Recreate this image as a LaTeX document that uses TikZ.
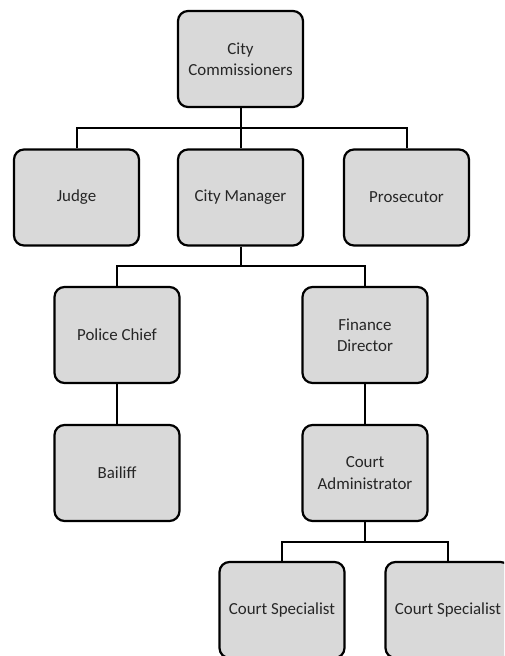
\documentclass[tikz,border=0pt]{standalone}
\usepackage{fontspec}
\setmainfont{Carlito}
\definecolor{boxfill}{HTML}{D9D9D9}
\definecolor{boxtext}{HTML}{262626}
\tikzset{
  orgbox/.style={draw=black, fill=boxfill, line width=2.2pt, rounded corners=10pt,
    minimum width=125pt, minimum height=96pt, inner sep=2pt, align=center,
    text=boxtext, font=\fontsize{16.9}{21.5}\selectfont},
  link/.style={draw=black, line width=2pt}
}
\begin{document}
\begin{tikzpicture}[x=1pt, y=-1pt]
\useasboundingbox (0,0) rectangle (504,656);
\clip (0,0) rectangle (504,656);
\node[orgbox] (cc) at (240.5,59) {City\\Commissioners};
\node[orgbox] (judge) at (76.5,197.5) {Judge};
\node[orgbox] (cm) at (240.5,197.5) {City Manager};
\node[orgbox] (pros) at (406.5,197.5) {Prosecutor};
\node[orgbox] (pc) at (117,335) {Police Chief};
\node[orgbox] (fd) at (365,335) {Finance\\Director};
\node[orgbox] (bailiff) at (117,473) {Bailiff};
\node[orgbox] (ca) at (365,473) {Court\\Administrator};
\node[orgbox] (cs1) at (282,610) {Court Specialist};
\node[orgbox] (cs2) at (448,610) {Court Specialist};
\coordinate (bus1) at (240.5,128);
\coordinate (bus2) at (240.5,266);
\coordinate (bus3) at (365,542);
\draw[link] (cc.south) -- (cm.north);
\draw[link] (judge.north) |- (bus1) -| (pros.north);
\draw[link] (cm.south) -- (bus2);
\draw[link] (pc.north) |- (bus2) -| (fd.north);
\draw[link] (pc.south) -- (bailiff.north);
\draw[link] (fd.south) -- (ca.north);
\draw[link] (ca.south) -- (bus3);
\draw[link] (cs1.north) |- (bus3) -| (cs2.north);
\end{tikzpicture}
\end{document}
